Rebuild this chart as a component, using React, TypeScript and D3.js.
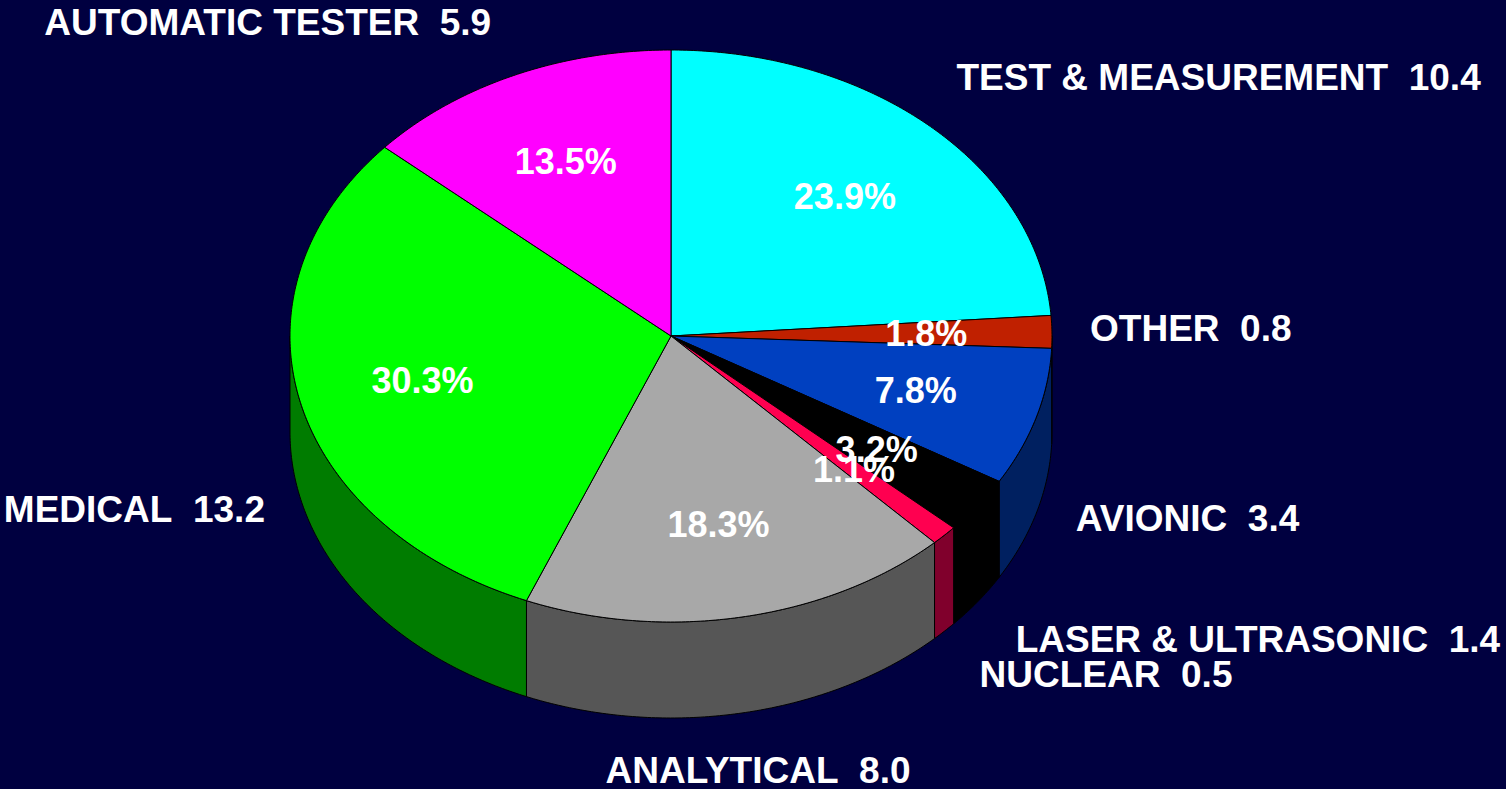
import * as d3 from 'd3'

// chart data
const categories = [
  'TEST & MEASUREMENT',
  'OTHER',
  'AVIONIC',
  'LASER & ULTRASONIC',
  'NUCLEAR',
  'ANALYTICAL',
  'MEDICAL',
  'AUTOMATIC TESTER',
]
const values = [10.4, 0.8, 3.4, 1.4, 0.5, 8.0, 13.2, 5.9]

const topColors = ['#00ffff', '#c02000', '#0040c0', '#000000', '#ff0050', '#a8a8a8', '#00ff00', '#ff00ff']
const sideColors = ['#008080', '#601000', '#002060', '#000000', '#80002c', '#565656', '#007c00', '#800080']

// small hand nudges for the outside labels (layout only), [dx, dy]
const labelNudge = [[0, -8], [0, -3], [3, -12], [7, 4], [8, 3], [9, 1], [2, -2], [-7, -2]]

const W = 1506
const H = 789
const BG = '#000040'
const FONT = '"Liberation Sans", Arial, Helvetica, sans-serif'

export default function App() {
  const cx = 671
  const cy = 336
  const rx = 381
  const ry = 286
  const depth = 96

  const total = d3.sum(values)
  const pct = d3.format('.1%')
  const num = d3.format('.1f')

  const pie = d3.pie<number>().sort(null).value(d => d)
  const arcs = pie(values)

  // projected point on the top ellipse, angle clockwise from 12 o'clock
  const pt = (a: number, r = 1, dy = 0): [number, number] => [
    cx + r * rx * Math.sin(a),
    cy - r * ry * Math.cos(a) + dy,
  ]
  const sample = (a0: number, a1: number, dy = 0) => {
    const n = Math.max(2, Math.ceil(Math.abs(a1 - a0) / 0.01))
    return d3.range(n + 1).map(i => pt(a0 + ((a1 - a0) * i) / n, 1, dy))
  }
  const line = d3.line().curve(d3.curveLinearClosed)

  const tops = arcs.map(a => line([[cx, cy], ...sample(a.startAngle, a.endAngle)]) as string)

  const sides = arcs.map(a => {
    const s = Math.max(a.startAngle, Math.PI / 2)
    const e = Math.min(a.endAngle, (3 * Math.PI) / 2)
    if (e <= s) return null
    return line([...sample(s, e), ...sample(e, s, depth)]) as string
  })

  const inner = arcs.map((a, i) => {
    const m = (a.startAngle + a.endAngle) / 2
    const [x, y] = pt(m, 0.67)
    return { x, y: y + 36 * 0.358, text: pct(values[i] / total) }
  })

  const outer = arcs.map((a, i) => {
    const m = (a.startAngle + a.endAngle) / 2
    const s = Math.sin(m)
    const c = Math.cos(m)
    const [x, y0] = pt(m, 1.1, c < 0 ? depth : 0)
    const mid = y0 - c * 28
    const anchor = Math.abs(s) < 0.25 ? 'middle' : s > 0 ? 'start' : 'end'
    const [dx, dy] = labelNudge[i]
    return {
      x: x + dx,
      y: Math.min(mid + dy + 37 * 0.358, H - 5),
      anchor,
      text: `${categories[i]}\u00a0 ${num(values[i])}`,
    }
  })

  return (
    <svg
      width={W}
      height={H}
      style={{ position: 'fixed', left: 0, top: 0, display: 'block', background: BG }}
    >
      <rect width={W} height={H} fill={BG} />
      <g stroke="#000" strokeWidth={1} strokeLinejoin="round">
        {sides.map((d, i) => (d ? <path key={'s' + i} d={d} fill={sideColors[i]} /> : null))}
        {tops.map((d, i) => (
          <path key={'t' + i} d={d} fill={topColors[i]} />
        ))}
      </g>
      <g fill="#fff" fontFamily={FONT} fontWeight="bold" fontSize={36} textAnchor="middle">
        {inner.map((l, i) => (
          <text key={'p' + i} x={l.x} y={l.y}>
            {l.text}
          </text>
        ))}
      </g>
      <g fill="#fff" fontFamily={FONT} fontWeight="bold" fontSize={37}>
        {outer.map((l, i) => (
          <text key={'o' + i} x={l.x} y={l.y} textAnchor={l.anchor}>
            {l.text}
          </text>
        ))}
      </g>
    </svg>
  )
}
